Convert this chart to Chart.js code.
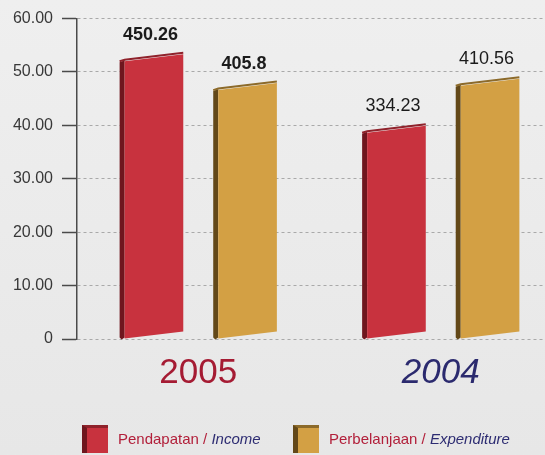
<!DOCTYPE html>
<html>
<head>
<meta charset="utf-8">
<script src="https://cdn.jsdelivr.net/npm/chart.js@4.4.0/dist/chart.umd.min.js"></script>
<style>
html, body { margin: 0; padding: 0; overflow: hidden; }
body {
    width: 545px; height: 455px;
    background: linear-gradient(#efefef, #e7e7e7);
    font-family: "Liberation Sans", Arial, sans-serif;
}
#wrap { position: relative; width: 570px; height: 455px; }
.item { position: absolute; top: 424px; height: 28px; line-height: 28px; font-size: 15px; white-space: nowrap; }
.box { position: absolute; left: 0; top: 1px; width: 21px; height: 25px; }
.item span.txt { position: absolute; top: 1px; }
.red { color: #b21f3a; }
.navy { color: #2d2c72; font-style: italic; }
</style>
</head>
<body>
<div id="wrap">
  <canvas id="barChart" width="570" height="455"></canvas>
  <div class="item" style="left:82px">
    <div class="box" style="background:#c8323e;border-left:5px solid #6f161e;border-top:3px solid #8f222b"></div>
    <span class="txt" style="left:36px"><span class="red">Pendapatan / </span><span class="navy">Income</span></span>
  </div>
  <div class="item" style="left:293px">
    <div class="box" style="background:#d3a044;border-left:5px solid #634818;border-top:3px solid #8c6a2a"></div>
    <span class="txt" style="left:36px"><span class="red">Perbelanjaan / </span><span class="navy">Expenditure</span></span>
  </div>
</div>
<script>
// values (axis units), printed labels are the report figures
var years = ['2005', '2004'];
var income = [52.2, 38.8];
var expenditure = [46.8, 47.6];
var incomeLabels = ['450.26', '334.23'];
var expenditureLabels = ['405.8', '410.56'];
var yTicks = [0, 10, 20, 30, 40, 50, 60];

var ctx = document.getElementById('barChart').getContext('2d');

// draws each bar as a slanted 3d block plus its value text
var bars3d = {
    id: 'bars3d',
    afterDatasetsDraw: function(chart) {
        var c = chart.ctx;
        var d = 5, s = 7;
        chart.data.datasets.forEach(function(ds, i) {
            var meta = chart.getDatasetMeta(i);
            meta.data.forEach(function(bar, j) {
                var p = bar.getProps(['x', 'y', 'base', 'width'], true);
                var xL = p.x - p.width / 2, xR = p.x + p.width / 2;
                var yT = p.y, base = p.base;
                c.save();
                // side
                c.fillStyle = ds.sideColor;
                c.beginPath();
                c.moveTo(xL, yT + 2);
                c.lineTo(xL + d, yT);
                c.lineTo(xL + d, base - 1);
                c.lineTo(xL + 2, base + 1);
                c.lineTo(xL, base - 1);
                c.closePath();
                c.fill();
                // front
                c.fillStyle = ds.frontColor;
                c.beginPath();
                c.moveTo(xL + d, yT + 1);
                c.lineTo(xR, yT + 1 - s);
                c.lineTo(xR, base - s);
                c.lineTo(xL + d, base);
                c.closePath();
                c.fill();
                // top edge
                c.strokeStyle = ds.topColor;
                c.lineWidth = 2;
                c.beginPath();
                c.moveTo(xL, yT + 1);
                c.lineTo(xL + d, yT - 0.5);
                c.lineTo(xR, yT - s - 0.5);
                c.stroke();
                // value label
                c.fillStyle = '#1b1b1b';
                c.font = (j === 0 ? 'bold ' : '') + '18px "Liberation Sans", Arial, sans-serif';
                c.textAlign = 'center';
                c.textBaseline = 'middle';
                c.fillText(ds.valueLabels[j], p.x - 1, yT - s / 2 - 22);
                c.restore();
            });
        });
    }
};

var myBarChart = new Chart(ctx, {
    type: 'bar',
    data: {
        labels: years,
        datasets: [{
            label: 'Pendapatan / Income',
            data: income,
            valueLabels: incomeLabels,
            backgroundColor: 'rgba(0,0,0,0)',
            frontColor: '#c8323e',
            sideColor: '#6f161e',
            topColor: '#8f222b'
        }, {
            label: 'Perbelanjaan / Expenditure',
            data: expenditure,
            valueLabels: expenditureLabels,
            backgroundColor: 'rgba(0,0,0,0)',
            frontColor: '#d3a044',
            sideColor: '#634818',
            topColor: '#8c6a2a'
        }]
    },
    options: {
        responsive: false,
        animation: false,
        events: [],
        categoryPercentage: 0.772,
        barPercentage: 0.68,
        layout: { padding: { top: 16, right: 8, bottom: 0, left: 0 } },
        plugins: { legend: { display: false }, tooltip: { enabled: false } },
        scales: {
            x: {
                grid: { display: false, drawTicks: false },
                border: { display: false },
                afterFit: function(scale) { scale.height = 116; },
                ticks: {
                    padding: 13,
                    color: function(c) { return c.index === 0 ? '#a51b33' : '#2b2a6e'; },
                    font: function(c) {
                        return { family: '"Liberation Sans", Arial, sans-serif', size: 35, style: c.index === 0 ? 'normal' : 'italic' };
                    }
                }
            },
            y: {
                min: 0,
                max: 60,
                afterFit: function(scale) { scale.width = 77; },
                afterBuildTicks: function(scale) {
                    scale.ticks = yTicks.map(function(v) { return { value: v }; });
                },
                border: { display: true, color: '#4a4a4a', width: 1.5, dash: [3, 3] },
                grid: {
                    color: '#a9a9a9',
                    lineWidth: 1,
                    tickLength: 15,
                    tickColor: '#4a4a4a',
                    tickWidth: 1.5,
                    tickBorderDash: []
                },
                ticks: {
                    padding: 9,
                    color: '#383838',
                    font: { family: '"Liberation Sans", Arial, sans-serif', size: 16 },
                    callback: function(v) { return v === 0 ? '0' : v.toFixed(2); }
                }
            }
        }
    },
    plugins: [bars3d]
});
</script>
</body>
</html>
